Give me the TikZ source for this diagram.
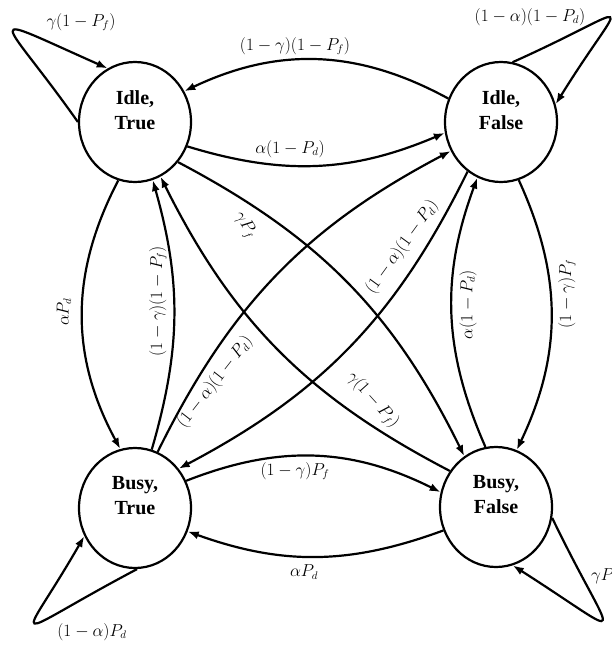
\documentclass[tikz,border=0pt]{standalone}
\usepackage{fontspec}
\setmainfont{Liberation Serif}
\usetikzlibrary{shapes.geometric,arrows.meta}
\begin{document}
\begin{tikzpicture}[x=1pt,y=-1pt,
  state/.style={ellipse,draw,line width=2.2pt,minimum width=112pt,minimum height=120pt,inner sep=0pt},
  stext/.style={font=\fontsize{20}{25}\selectfont\bfseries,align=center,inner sep=0pt},
  edge/.style={line width=2.2pt,-{Latex[length=11pt,width=8pt]}},
  lab/.style={font=\fontsize{16}{19}\selectfont,inner sep=0pt}]
\useasboundingbox (0,0) rectangle (611,645);
% states
\node[state] (itr) at (135,122) {};
\node[state] (ifa) at (501,122) {};
\node[state] (btr) at (135,508) {};
\node[state] (bfa) at (496,507) {};
\node[stext] (itrT) at ([yshift=12pt]itr.center) {Idle,\\True};
\node[stext] (ifaT) at ([yshift=12pt]ifa.center) {Idle,\\False};
\node[stext] (btrT) at ([yshift=12pt]btr.center) {Busy,\\True};
\node[stext] (bfaT) at ([yshift=12pt]bfa.center) {Busy,\\False};
% self loops
\draw[edge] (itr.180) .. controls (1,13) and (-26,9) .. (itr.117);
\draw[edge] (ifa.79) .. controls (641.8,4.2) and (627.2,-11.2) .. (ifa.18);
\draw[edge] (btr.-88) .. controls (1.7,640.8) and (18.3,650.8) .. (btr.209);
\draw[edge] (bfa.-11) .. controls (614.1,646.4) and (635.7,643.9) .. (bfa.-74);
% horizontal
\draw[edge] (ifa.156) to[bend right=27] (itr.32);
\draw[edge] (itr.-25) to[bend right=20] (ifa.-169);
\draw[edge] (btr.28) to[bend left=24] (bfa.165);
\draw[edge] (bfa.204) to[bend left=20] (btr.-24);
% vertical
\draw[edge] (itr.-106) to[bend right=28] (btr.104);
\draw[edge] (btr.74) to[bend right=16] (itr.-73);
\draw[edge] (bfa.100) to[bend left=22] (ifa.-113);
\draw[edge] (ifa.-73) to[bend left=25] (bfa.70);
% cross
\draw[edge] (itr.-43) to[bend left=18] (bfa.122);
\draw[edge] (bfa.142) to[bend left=18] (itr.-65);
\draw[edge] (btr.68) to[bend left=18] (ifa.210);
\draw[edge] (ifa.-124) to[bend left=18] (btr.42);
% labels
\node[lab] (l1) at (81,22) {$\gamma(1-P_f)$};
\node[lab] (l2) at (295,46) {$(1-\gamma)(1-P_f)$};
\node[lab] (l3) at (290,149) {$\alpha(1-P_d)$};
\node[lab] (l4) at (530,17) {$(1-\alpha)(1-P_d)$};
\node[lab,rotate=90] (l5) at (64,312) {$\alpha P_d$};
\node[lab,rotate=90] (l6) at (158,301) {$(1-\gamma)(1-P_f)$};
\node[lab,rotate=-58] (l7) at (245,225) {$\gamma P_f$};
\node[lab,rotate=54] (l8) at (402,247) {$(1-\alpha)(1-P_d)$};
\node[lab,rotate=52] (l9) at (215,382) {$(1-\alpha)(1-P_d)$};
\node[lab,rotate=-48] (l10) at (373,400) {$\gamma(1-P_f)$};
\node[lab,rotate=90] (l11) at (468,305) {$\alpha(1-P_d)$};
\node[lab,rotate=90] (l12) at (567,294) {$(1-\gamma)P_f$};
\node[lab] (l13) at (295,471) {$(1-\gamma)P_f$};
\node[lab] (l14) at (304,572) {$\alpha P_d$};
\node[lab] (l15) at (92,632) {$(1-\alpha)P_d$};
\node[lab,anchor=west] (l16) at (591,577) {$\gamma P_f$};
\end{tikzpicture}
\end{document}
